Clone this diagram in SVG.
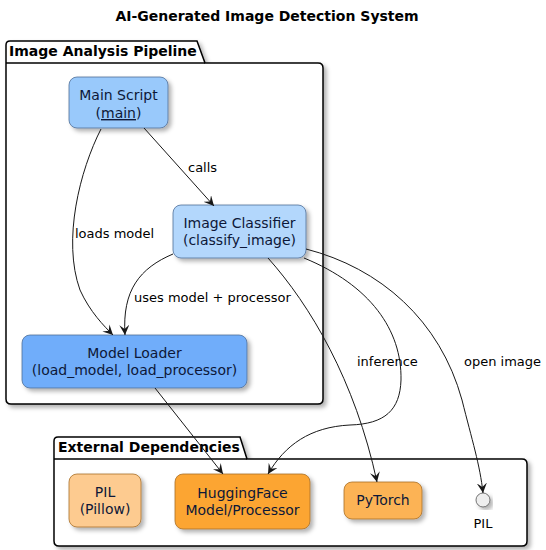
<svg xmlns="http://www.w3.org/2000/svg" width="546" height="550" viewBox="0 0 546 550">
<defs>
<filter id="sh" x="-10%" y="-10%" width="130%" height="130%">
<feDropShadow dx="3" dy="3" stdDeviation="2" flood-color="#000" flood-opacity="0.3"/>
</filter>
<marker id="ah" viewBox="0 0 10 10" refX="10" refY="5" markerWidth="10" markerHeight="10" markerUnits="userSpaceOnUse" orient="auto">
<path d="M0,0 L10,5 L0,10 L4,5 Z" fill="#181818"/>
</marker>
</defs>
<style>
text{font-family:"DejaVu Sans",sans-serif;}
.title{font-size:14px;font-weight:bold;fill:#000;}
.pkg{font-size:14px;font-weight:bold;fill:#000;}
.pkgshape{fill:#fff;stroke:#000;stroke-width:1.5;}
.node{font-size:14px;fill:#0d1838;text-anchor:middle;}
.lbl{font-size:13px;fill:#000;}
.e{fill:none;stroke:#181818;stroke-width:1;marker-end:url(#ah);}
.blue{stroke:#4f6f98;stroke-width:0.8;}
.orng{stroke:#a87028;stroke-width:0.8;}
</style>
<rect width="546" height="550" fill="#fff"/>
<text class="title" x="267" y="21" text-anchor="middle">AI-Generated Image Detection System</text>

<g id="pkg-pipeline">
<path class="pkgshape" filter="url(#sh)" d="M6,63 L6,45 Q6,41 10,41 L197,41 L205,63 L318,63 Q323,63 323,68 L323,399 Q323,404 318,404 L11,404 Q6,404 6,399 Z"/>
<line x1="6" y1="63" x2="205" y2="63" stroke="#000" stroke-width="1.5"/>
<text class="pkg" x="9" y="56">Image Analysis Pipeline</text>
</g>

<g id="pkg-external">
<path class="pkgshape" filter="url(#sh)" d="M54,459 L54,441 Q54,437 58,437 L240,437 L247,459 L522,459 Q527,459 527,464 L527,541 Q527,546 522,546 L59,546 Q54,546 54,541 Z"/>
<line x1="54" y1="459" x2="247" y2="459" stroke="#000" stroke-width="1.5"/>
<text class="pkg" x="58" y="452">External Dependencies</text>
</g>

<g id="main">
<rect class="blue" x="69" y="77" width="99" height="51" rx="8" fill="#99C9FB" filter="url(#sh)"/>
<text class="node" x="118.5" y="100">Main Script</text>
<text class="node" x="118.5" y="118">(<tspan text-decoration="underline">main</tspan>)</text>
</g>

<g id="classifier">
<rect class="blue" x="173" y="205" width="133" height="53" rx="8" fill="#B3D7FC" filter="url(#sh)"/>
<text class="node" x="239.5" y="228">Image Classifier</text>
<text class="node" x="239.5" y="245">(classify_image)</text>
</g>

<g id="loader">
<rect class="blue" x="22" y="335" width="225" height="53" rx="8" fill="#70ADFA" filter="url(#sh)"/>
<text class="node" x="134.5" y="358">Model Loader</text>
<text class="node" x="134.5" y="375">(load_model, load_processor)</text>
</g>

<g id="pillow">
<rect class="orng" x="69" y="474" width="72" height="53" rx="8" fill="#FDCB90" filter="url(#sh)"/>
<text class="node" x="105" y="497">PIL</text>
<text class="node" x="105" y="514">(Pillow)</text>
</g>

<g id="huggingface">
<rect class="orng" x="175" y="474" width="135" height="55" rx="8" fill="#FCA533" filter="url(#sh)"/>
<text class="node" x="242.5" y="498">HuggingFace</text>
<text class="node" x="242.5" y="515">Model/Processor</text>
</g>

<g id="pytorch">
<rect class="orng" x="344" y="482" width="78" height="37" rx="8" fill="#FCB354" filter="url(#sh)"/>
<text class="node" x="383" y="505">PyTorch</text>
</g>

<g id="pil-interface">
<circle cx="483" cy="500" r="7" fill="#eeeeee" stroke="#555" stroke-width="0.8" filter="url(#sh)"/>
<text class="node" x="483" y="528" style="font-size:13px;fill:#000">PIL</text>
</g>

<g id="connectors">
<path class="e" d="M144,128 L214,206"/>
<text class="lbl" x="188" y="172">calls</text>

<path class="e" d="M101,129 C80,170 62,240 80,290 C90,312 104,326 113,335"/>
<text class="lbl" x="75" y="238">loads model</text>

<path class="e" d="M173,254 C140,268 122,290 125,335"/>
<text class="lbl" x="134" y="302">uses model + processor</text>

<path class="e" d="M155,388 L223,474"/>

<path class="e" d="M304,258 C370,285 402,330 401,380 C400,410 385,424 350,425 C310,427 285,445 268,474"/>

<path class="e" d="M268,258 C310,305 355,380 377,482"/>
<text class="lbl" x="357" y="366">inference</text>

<path class="e" d="M306,249 C380,268 440,320 462,400 C472,440 480,465 483,493"/>
<text class="lbl" x="464" y="366">open image</text>
</g>
</svg>
